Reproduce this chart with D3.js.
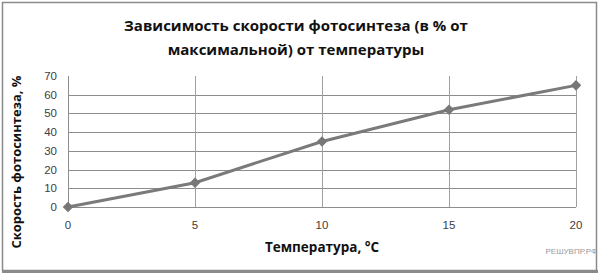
<!DOCTYPE html>
<html>
<head>
<meta charset="utf-8">
<script src="https://cdn.jsdelivr.net/npm/d3@7"></script>
<style>
  body { margin: 0; background: #fff; }
  svg { display: block; }
</style>
</head>
<body>
<script>
var w = 600;
var h = 277;

// data
var temps = [0, 5, 10, 15, 20];
var rates = [0, 13, 35, 52, 65];
var xTicks = [0, 5, 10, 15, 20];
var yTicks = [0, 10, 20, 30, 40, 50, 60, 70];
var titleLines = ['Зависимость скорости фотосинтеза (в % от', 'максимальной) от температуры'];

var svg = d3.select('body').append('svg').attr('width', w).attr('height', h);

// outer frame
svg.append('rect').attr('x', 2.5).attr('y', 2.5).attr('width', 594).attr('height', 268)
  .attr('fill', '#fff').attr('stroke', '#8a8a8a').attr('stroke-width', 1.5);
svg.append('rect').attr('x', 2).attr('y', 270).attr('width', 596).attr('height', 3).attr('fill', '#8a8a8a');

var x = d3.scaleLinear().domain([0, 20]).range([68, 576]);
var y = d3.scaleLinear().domain([0, 70]).range([207, 76]);

// grid
svg.selectAll('.hgrid').data(yTicks.filter(function(d){ return d > 0 && d < 70; }))
  .enter().append('line')
  .attr('x1', x(0)).attr('x2', x(20))
  .attr('y1', function(d){ return Math.round(y(d)) + 0.5; })
  .attr('y2', function(d){ return Math.round(y(d)) + 0.5; })
  .attr('stroke', '#8c8c8c').attr('stroke-width', 1);
svg.selectAll('.vgrid').data(xTicks.filter(function(d){ return d > 0; }))
  .enter().append('line')
  .attr('x1', function(d){ return Math.round(x(d)) + 0.5; })
  .attr('x2', function(d){ return Math.round(x(d)) + 0.5; })
  .attr('y1', y(70)).attr('y2', y(0))
  .attr('stroke', '#a0a0a0').attr('stroke-width', 1);

// axes lines
svg.append('line').attr('x1', x(0) + 0.5).attr('x2', x(0) + 0.5).attr('y1', y(70)).attr('y2', y(0))
  .attr('stroke', '#8c8c8c');
svg.append('line').attr('x1', x(0)).attr('x2', x(20)).attr('y1', Math.round(y(0)) + 0.5).attr('y2', Math.round(y(0)) + 0.5)
  .attr('stroke', '#8c8c8c');

// tick labels
svg.selectAll('.ylab').data(yTicks).enter().append('text')
  .attr('x', 57).attr('y', function(d){ return y(d) + 4; })
  .attr('text-anchor', 'end')
  .attr('font-family', 'Liberation Sans, Arial, sans-serif')
  .attr('font-size', '11.5px').attr('fill', '#404040')
  .text(function(d){ return d; });
svg.selectAll('.xlab').data(xTicks).enter().append('text')
  .attr('x', function(d){ return x(d); }).attr('y', 229)
  .attr('text-anchor', 'middle')
  .attr('font-family', 'Liberation Sans, Arial, sans-serif')
  .attr('font-size', '11.5px').attr('fill', '#404040')
  .text(function(d){ return d; });

// series
var pts = temps.map(function(t, i){ return [t, rates[i]]; });
svg.append('path').datum(pts)
  .attr('d', d3.line().x(function(d){ return x(d[0]); }).y(function(d){ return y(d[1]); }))
  .attr('fill', 'none').attr('stroke', '#7a7a7a').attr('stroke-width', 3);
svg.selectAll('.mark').data(pts).enter().append('path')
  .attr('d', d3.symbol().type(d3.symbolSquare).size(56))
  .attr('transform', function(d){ return 'translate(' + x(d[0]) + ',' + y(d[1]) + ') rotate(45)'; })
  .attr('fill', '#777');

// titles
svg.selectAll('.title').data(titleLines).enter().append('text')
  .attr('x', 296).attr('y', function(d, i){ return 31 + i * 24; })
  .attr('text-anchor', 'middle')
  .attr('font-family', 'Open Sans, sans-serif').attr('font-weight', 'bold')
  .attr('font-size', '15px').attr('fill', '#111')
  .text(function(d){ return d; });

svg.append('text')
  .attr('x', 322).attr('y', 252).attr('text-anchor', 'middle')
  .attr('font-family', 'Open Sans, sans-serif').attr('font-weight', 'bold')
  .attr('font-size', '13.5px').attr('fill', '#111')
  .text('Температура, °C');

svg.append('text')
  .attr('transform', 'translate(21,162) rotate(-90)')
  .attr('text-anchor', 'middle')
  .attr('font-family', 'Open Sans, sans-serif').attr('font-weight', 'bold')
  .attr('font-size', '13px').attr('fill', '#111')
  .text('Скорость фотосинтеза, %');

svg.append('text')
  .attr('x', 597).attr('y', 254).attr('text-anchor', 'end')
  .attr('font-family', 'Liberation Sans, Arial, sans-serif')
  .attr('font-size', '8px').attr('fill', '#999')
  .text('РЕШУВПР.РФ');
</script>
</body>
</html>
